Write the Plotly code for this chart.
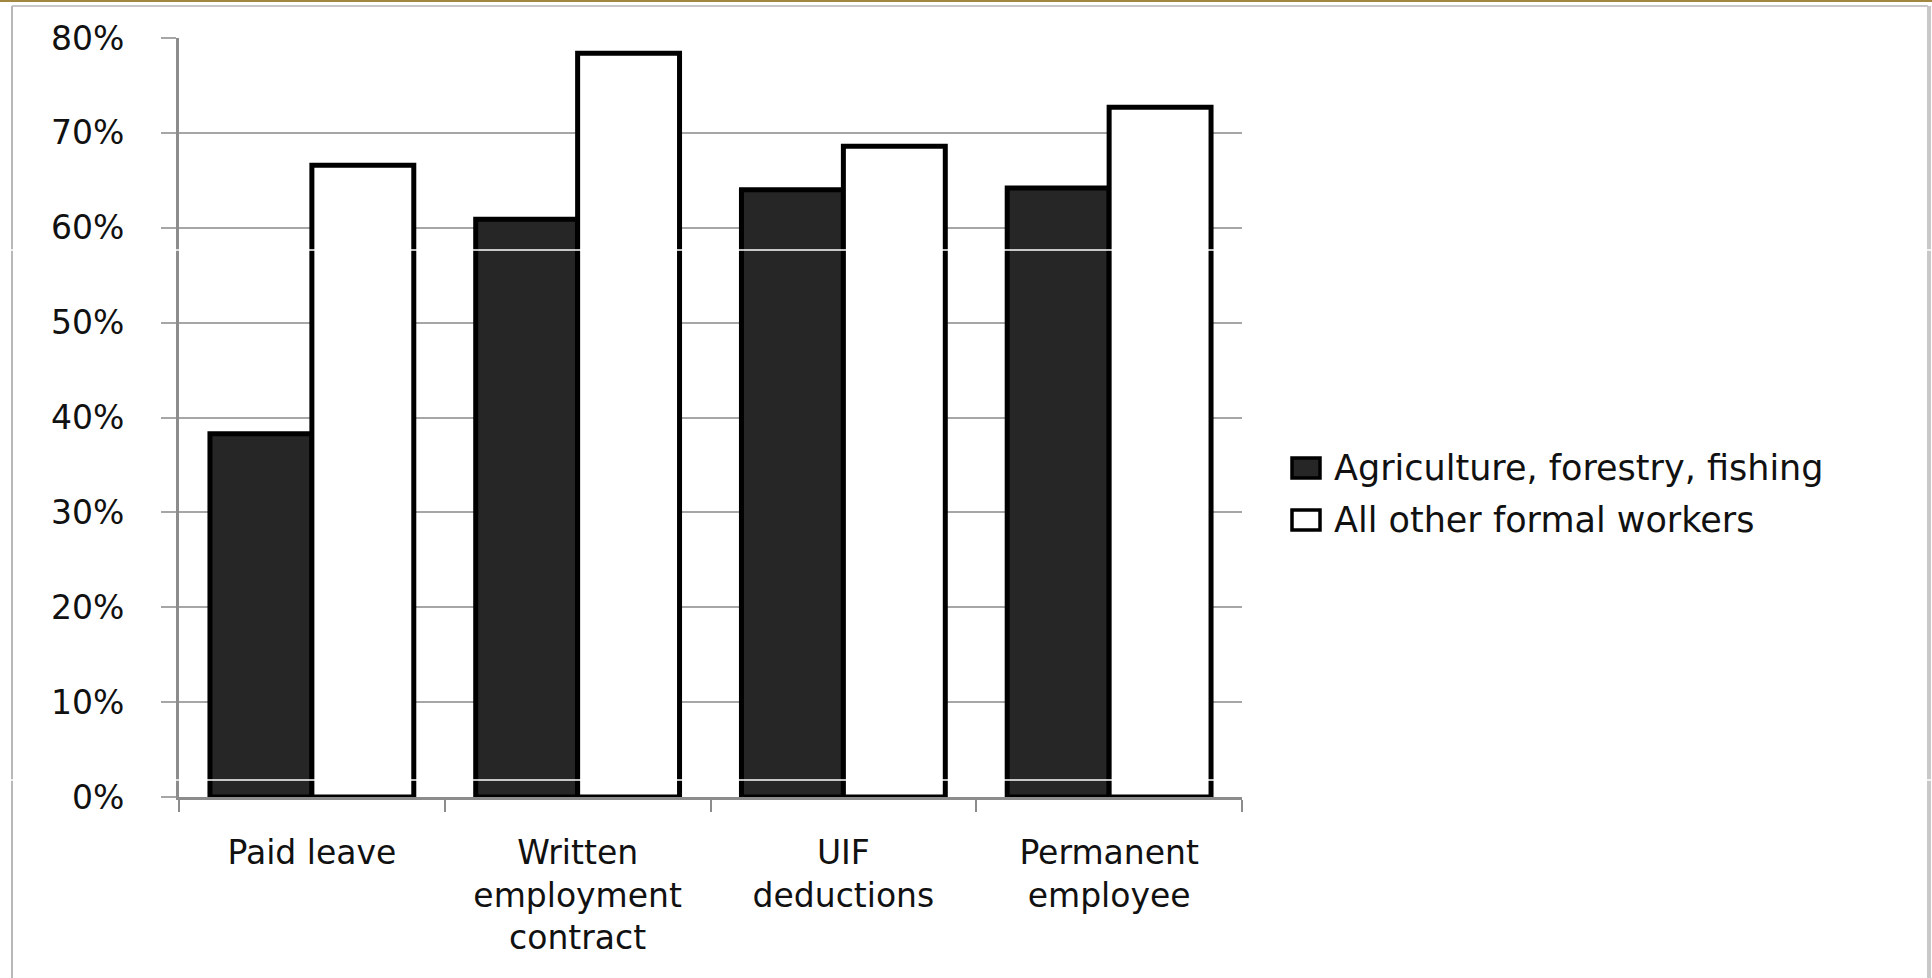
import plotly.graph_objects as go

categories = ["Paid leave", "Written<br>employment<br>contract", "UIF<br>deductions", "Permanent<br>employee"]
series_names = ["Agriculture, forestry, fishing", "All other formal workers"]
agri_values = [0.383, 0.609, 0.640, 0.642]
other_values = [0.666, 0.784, 0.686, 0.727]
series_colors = ["#262626", "#ffffff"]
y_ticks = [0, 0.1, 0.2, 0.3, 0.4, 0.5, 0.6, 0.7, 0.8]

W, H = 1932, 978
L, R, T, B = 179, 690, 38, 181
PW, PH = W - L - R, H - T - B
FONT = "DejaVu Sans"
FS = 33


def px_x(px):
    return (px - L) / PW


def px_y(py):
    return (H - B - py) / PH


fig = go.Figure()
for name, vals, col in zip(series_names, [agri_values, other_values], series_colors):
    fig.add_trace(go.Bar(
        x=categories, y=vals, name=name,
        marker=dict(color=col, line=dict(color="#000000", width=5)),
        showlegend=False,
    ))

shapes = []
annotations = []
# custom legend
leg_rows = [468, 520]
for name, col, cy in zip(series_names, series_colors, leg_rows):
    shapes.append(dict(type="rect", xref="paper", yref="paper",
                       x0=px_x(1292), x1=px_x(1320), y0=px_y(cy - 10), y1=px_y(cy + 10),
                       fillcolor=col, line=dict(color="#000000", width=3.5), layer="above"))
    annotations.append(dict(xref="paper", yref="paper", x=px_x(1332), y=px_y(cy),
                            xanchor="left", yanchor="middle", text=name, showarrow=False,
                            font=dict(family=FONT, size=35, color="#111111")))

# outer frame
shapes.append(dict(type="line", xref="paper", yref="paper", x0=px_x(0), x1=px_x(W), y0=px_y(1), y1=px_y(1),
                   line=dict(color="#a08840", width=2)))
shapes.append(dict(type="line", xref="paper", yref="paper", x0=px_x(12), x1=px_x(1928), y0=px_y(6), y1=px_y(6),
                   line=dict(color="#c8c8c8", width=2)))
shapes.append(dict(type="line", xref="paper", yref="paper", x0=px_x(12), x1=px_x(12), y0=px_y(6), y1=px_y(H),
                   line=dict(color="#b8b8b8", width=2)))
shapes.append(dict(type="line", xref="paper", yref="paper", x0=px_x(1929), x1=px_x(1929), y0=px_y(6), y1=px_y(H),
                   line=dict(color="#c8c8c8", width=4)))
# faint white scan lines
for yy in [250, 780]:
    shapes.append(dict(type="line", xref="paper", yref="paper", x0=px_x(0), x1=px_x(W), y0=px_y(yy), y1=px_y(yy),
                       line=dict(color="#ffffff", width=1.5), layer="above"))

fig.update_layout(
    width=W, height=H,
    margin=dict(l=L, r=R, t=T, b=B, pad=0),
    paper_bgcolor="#ffffff", plot_bgcolor="#ffffff",
    barmode="group", bargap=0.233, bargroupgap=0,
    shapes=shapes, annotations=annotations,
    font=dict(family=FONT, size=FS, color="#111111"),
    xaxis=dict(
        showline=True, linecolor="#8c8c8c", linewidth=3,
        ticks="outside", ticklen=12, tickwidth=2, tickcolor="#8c8c8c",
        tickson="boundaries", showgrid=False,
        tickfont=dict(family=FONT, size=FS, color="#111111"),
        ticklabelstandoff=24,
    ),
    yaxis=dict(
        range=[0, 0.8], tickvals=y_ticks, tickformat=".0%",
        showline=True, linecolor="#8c8c8c", linewidth=3,
        showgrid=True, gridcolor="#a6a6a6", gridwidth=2,
        ticks="outside", ticklen=15, tickwidth=2, tickcolor="#a6a6a6",
        tickfont=dict(family=FONT, size=FS, color="#111111"),
        ticklabelstandoff=30, zeroline=False,
    ),
)

fig.write_html("out.html", config={"displayModeBar": False},
               post_script="document.body.style.margin='0';document.body.style.overflow='hidden';")
